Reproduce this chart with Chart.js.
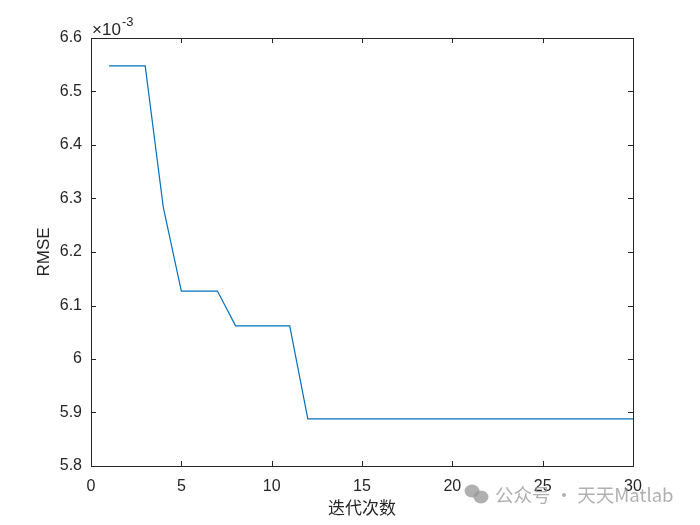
<!DOCTYPE html>
<html>
<head>
<meta charset="utf-8">
<script src="https://cdn.jsdelivr.net/npm/chart.js@4"></script>
<style>
  html, body { margin: 0; padding: 0; background: #fff; }
  #wrap { width: 700px; height: 525px; }
</style>
</head>
<body>
<div id="wrap"><canvas id="rmse-chart" width="700" height="525"></canvas></div>
<script>
// RMSE per iteration, in units of 1e-3
const iterations = [1,2,3,4,5,6,7,8,9,10,11,12,13,14,15,16,17,18,19,20,21,22,23,24,25,26,27,28,29,30]
const rmseValues = [6.548,6.548,6.548,6.284,6.127,6.127,6.127,6.062,6.062,6.062,6.062,
  5.888,5.888,5.888,5.888,5.888,5.888,5.888,5.888,5.888,5.888,5.888,5.888,5.888,5.888,5.888,5.888,5.888,5.888,5.888]
const xTicks = [0,5,10,15,20,25,30]
const yTicks = [5.8,5.9,6.0,6.1,6.2,6.3,6.4,6.5,6.6]

const axisColor = 'rgb(38,38,38)'
const fontFamily = '"Liberation Sans", Arial, sans-serif'

const ctx = document.getElementById('rmse-chart').getContext('2d')

// box + inward ticks, exponent label and watermark
const matlabFrame = {
  id: 'matlabFrame',
  afterDraw(chart) {
    const { ctx, chartArea: a, scales: { x, y } } = chart
    ctx.save()
    ctx.strokeStyle = axisColor
    ctx.lineWidth = 1
    ctx.strokeRect(a.left + 0.5, a.top + 0.5, a.right - a.left, a.bottom - a.top)
    ctx.beginPath()
    xTicks.forEach(v => {
      const px = Math.round(x.getPixelForValue(v)) + 0.5
      ctx.moveTo(px, a.bottom); ctx.lineTo(px, a.bottom - 5)
      ctx.moveTo(px, a.top); ctx.lineTo(px, a.top + 5)
    })
    yTicks.forEach(v => {
      const py = Math.round(y.getPixelForValue(v)) + 0.5
      ctx.moveTo(a.left, py); ctx.lineTo(a.left + 5, py)
      ctx.moveTo(a.right, py); ctx.lineTo(a.right - 5, py)
    })
    ctx.stroke()

    // x10^-3
    ctx.fillStyle = axisColor
    ctx.textBaseline = 'alphabetic'
    ctx.textAlign = 'left'
    ctx.font = '17px ' + fontFamily
    ctx.fillText('\u00d710', a.left + 1, a.top - 3)
    ctx.font = '13px ' + fontFamily
    ctx.fillText('-3', a.left + 31, a.top - 12)

    // watermark
    ctx.fillStyle = 'rgba(150,150,150,0.75)'
    ctx.beginPath()
    ctx.ellipse(472, 491, 7.5, 6.5, 0, 0, Math.PI * 2)
    ctx.fill()
    ctx.beginPath()
    ctx.ellipse(481, 497, 7.5, 6.5, 0, 0, Math.PI * 2)
    ctx.fill()
    ctx.font = '18.5px "Noto Sans CJK SC", sans-serif'
    ctx.textBaseline = 'middle'
    ctx.fillText('\u516c\u4f17\u53f7 \u00b7 \u5929\u5929Matlab', 495, 495)
    ctx.restore()
  }
}

const data = {
  datasets: [{
    data: iterations.map((it, i) => ({ x: it, y: rmseValues[i] })),
    borderColor: 'rgb(0,114,189)',
    borderWidth: 1.2,
    pointRadius: 0,
    fill: false,
    tension: 0
  }]
}

const config = {
  type: 'line',
  data,
  plugins: [matlabFrame],
  options: {
    responsive: false,
    animation: false,
    layout: {
      padding: { top: 38, right: 67, left: 0, bottom: 0 }
    },
    plugins: {
      legend: { display: false },
      tooltip: { enabled: false }
    },
    scales: {
      x: {
        type: 'linear',
        min: 0,
        max: 30,
        afterBuildTicks: s => { s.ticks = xTicks.map(v => ({ value: v })) },
        afterFit: s => { s.height = 59 },
        grid: { display: false, drawTicks: false },
        border: { display: false },
        ticks: {
          color: axisColor,
          padding: 11,
          maxRotation: 0,
          font: { family: fontFamily, size: 16 }
        },
        title: {
          display: true,
          text: '迭代次数',
          color: axisColor,
          font: { family: '"Noto Sans CJK SC", sans-serif', size: 17 },
          padding: { top: 0, bottom: 7 }
        }
      },
      y: {
        type: 'linear',
        min: 5.8,
        max: 6.6,
        afterBuildTicks: s => { s.ticks = yTicks.map(v => ({ value: v })) },
        afterFit: s => { s.width = 91 },
        grid: { display: false, drawTicks: false },
        border: { display: false },
        ticks: {
          color: axisColor,
          padding: 9,
          font: { family: fontFamily, size: 16 },
          callback: v => String(Number(v.toFixed(1)))
        },
        title: {
          display: true,
          text: 'RMSE',
          color: axisColor,
          font: { family: fontFamily, size: 17 },
          padding: { top: 34, bottom: 0 }
        }
      }
    }
  }
}

const rmseChart = new Chart(ctx, config)
</script>
</body>
</html>
